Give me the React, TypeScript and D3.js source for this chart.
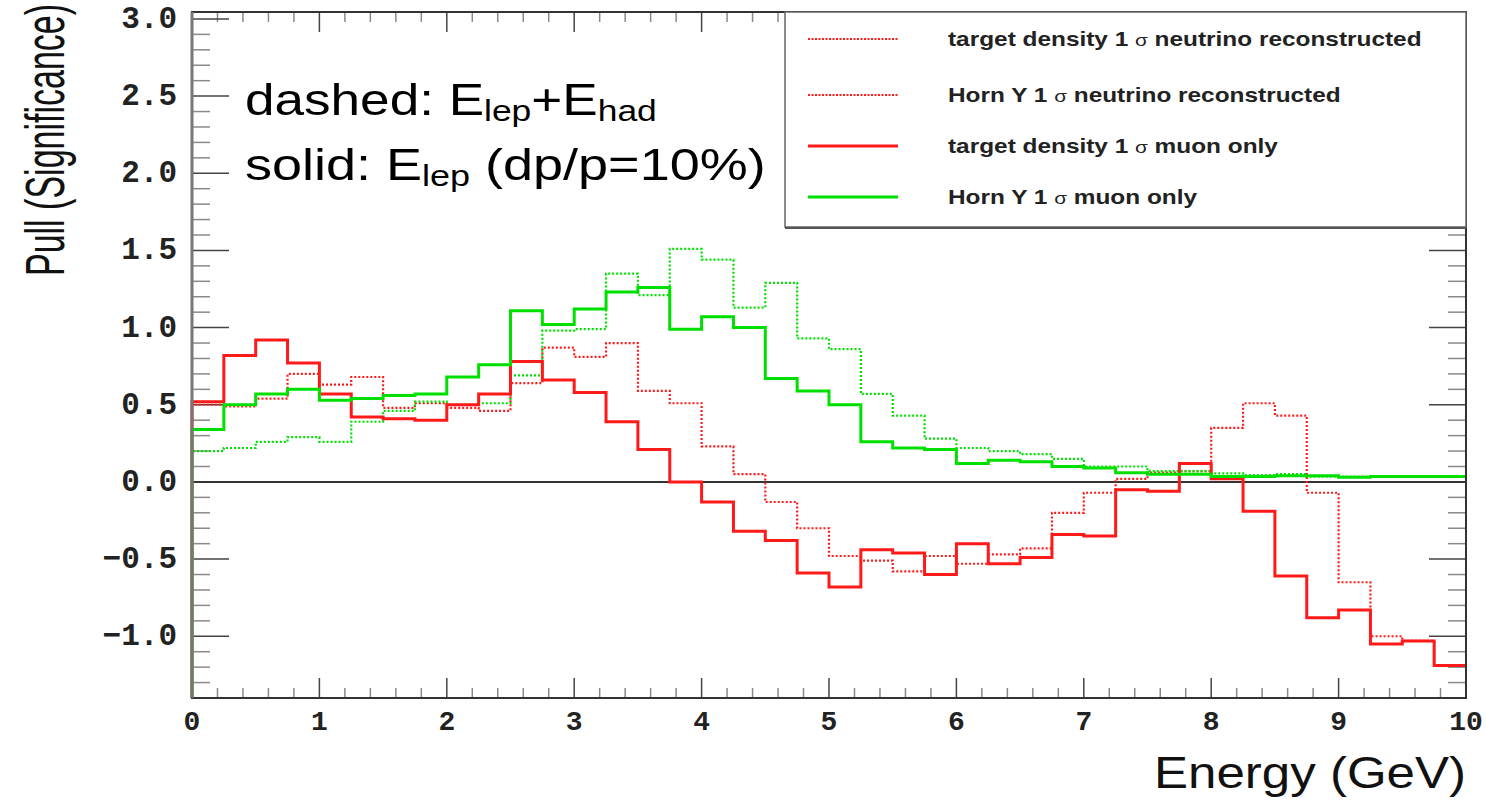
import React from 'react';
import * as d3 from 'd3';

const W = 1486;
const H = 802;

// Histogram binning: 40 bins of 0.25 GeV from 0 to 10 GeV
const BIN_WIDTH = 0.25;
const N_BINS = 40;
const binLowEdges = d3.range(N_BINS).map((i) => i * BIN_WIDTH);

// target density 1 sigma, muon only (red solid)
const targetDensityMuon = [
  0.52, 0.82, 0.92, 0.77, 0.57, 0.42, 0.41, 0.40, 0.50, 0.57,
  0.78, 0.66, 0.58, 0.39, 0.21, 0.00, -0.13, -0.32, -0.38, -0.59,
  -0.68, -0.44, -0.46, -0.60, -0.40, -0.53, -0.49, -0.34, -0.35, -0.05,
  -0.06, 0.12, 0.02, -0.19, -0.61, -0.88, -0.83, -1.05, -1.03, -1.19,
];

// Horn Y 1 sigma, muon only (green solid)
const hornYMuon = [
  0.34, 0.50, 0.57, 0.60, 0.53, 0.54, 0.56, 0.57, 0.68, 0.76,
  1.11, 1.02, 1.12, 1.23, 1.26, 0.99, 1.07, 1.00, 0.67, 0.59,
  0.50, 0.26, 0.22, 0.21, 0.12, 0.14, 0.13, 0.10, 0.09, 0.06,
  0.05, 0.05, 0.035, 0.035, 0.04, 0.04, 0.03, 0.035, 0.035, 0.035,
];

// target density 1 sigma, neutrino reconstructed (red dotted)
const targetDensityNu = [
  0.50, 0.49, 0.54, 0.70, 0.63, 0.68, 0.48, 0.51, 0.48, 0.46,
  0.64, 0.87, 0.81, 0.90, 0.59, 0.51, 0.23, 0.05, -0.13, -0.30,
  -0.48, -0.51, -0.58, -0.48, -0.53, -0.47, -0.43, -0.20, -0.07, 0.02,
  0.06, 0.07, 0.35, 0.51, 0.43, -0.07, -0.65, -1.00, -1.03, -1.19,
];

// Horn Y 1 sigma, neutrino reconstructed (green dotted)
const hornYNu = [
  0.20, 0.22, 0.26, 0.29, 0.26, 0.39, 0.46, 0.52, 0.50, 0.51,
  0.69, 0.98, 0.99, 1.35, 1.21, 1.51, 1.44, 1.13, 1.29, 0.93,
  0.86, 0.57, 0.43, 0.28, 0.22, 0.20, 0.18, 0.15, 0.10, 0.10,
  0.07, 0.07, 0.055, 0.045, 0.05, 0.035, 0.035, 0.035, 0.035, 0.035,
];

const yMajorTicks = [-1.0, -0.5, 0.0, 0.5, 1.0, 1.5, 2.0, 2.5, 3.0];
const yTickLabels = ['\u22121.0', '\u22120.5', '0.0', '0.5', '1.0', '1.5', '2.0', '2.5', '3.0'];
const xMajorTicks = [0, 1, 2, 3, 4, 5, 6, 7, 8, 9, 10];
const xTickLabels = ['0', '1', '2', '3', '4', '5', '6', '7', '8', '9', '10'];

const legendEntries = [
  { pre: 'target density 1 ', post: ' neutrino reconstructed', color: '#ff1a1a', dotted: true },
  { pre: 'Horn Y 1 ', post: ' neutrino reconstructed', color: '#ff1a1a', dotted: true },
  { pre: 'target density 1 ', post: ' muon only', color: '#ff1a1a', dotted: false },
  { pre: 'Horn Y 1 ', post: ' muon only', color: '#00e000', dotted: false },
];

const RED = '#ff1a1a';
const GREEN = '#00e000';

export default function App() {
  const X0 = 192, X1 = 1466, Y0 = 698, Y1 = 12;
  const yMin = -1.4, yMax = 3.045;
  const x = d3.scaleLinear().domain([0, 10]).range([X0, X1]);
  const y = d3.scaleLinear().domain([yMin, yMax]).range([Y0, Y1]);

  const line = d3
    .line<[number, number]>()
    .x((d) => x(d[0]))
    .y((d) => y(d[1]))
    .curve(d3.curveStepAfter);

  const stepPath = (vals: number[]) => {
    const pts: [number, number][] = [[0, yMin]];
    vals.forEach((v, i) => pts.push([binLowEdges[i], v]));
    pts.push([N_BINS * BIN_WIDTH, vals[vals.length - 1]]);
    return line(pts) || '';
  };

  const yMinor = d3.range(-14, 31).map((i) => i / 10).filter((v) => Math.abs(v * 2 - Math.round(v * 2)) > 1e-6);
  const xMinor = d3.range(0, 51).map((i) => i / 5).filter((v) => Math.abs(v - Math.round(v)) > 1e-6);

  const series = [
    { vals: targetDensityNu, color: RED, dotted: true },
    { vals: hornYNu, color: GREEN, dotted: true },
    { vals: targetDensityMuon, color: RED, dotted: false },
    { vals: hornYMuon, color: GREEN, dotted: false },
  ];

  const legendRowY = [39, 95, 146, 197];

  return (
    <div style={{ position: 'absolute', left: 0, top: 0 }}>
      <svg width={W} height={H} style={{ display: 'block', background: '#fff' }}>
        <rect x={0} y={0} width={W} height={H} fill="#fff" />

        {/* minor ticks */}
        <g stroke="#8a8a8a" strokeWidth={1.5}>
          {yMinor.map((v) => (
            <g key={'ym' + v}>
              <line x1={X0} x2={X0 + 18} y1={y(v)} y2={y(v)} />
              <line x1={X1} x2={X1 - 18} y1={y(v)} y2={y(v)} />
            </g>
          ))}
          {xMinor.map((v) => (
            <g key={'xm' + v}>
              <line x1={x(v)} x2={x(v)} y1={Y0} y2={Y0 - 10} />
              <line x1={x(v)} x2={x(v)} y1={Y1} y2={Y1 + 10} />
            </g>
          ))}
        </g>
        {/* major ticks */}
        <g stroke="#444" strokeWidth={1.5}>
          {yMajorTicks.map((v) => (
            <g key={'yM' + v}>
              <line x1={X0} x2={X0 + 37} y1={y(v)} y2={y(v)} />
              <line x1={X1} x2={X1 - 37} y1={y(v)} y2={y(v)} />
            </g>
          ))}
          {xMajorTicks.map((v) => (
            <g key={'xM' + v}>
              <line x1={x(v)} x2={x(v)} y1={Y0} y2={Y0 - 20} />
              <line x1={x(v)} x2={x(v)} y1={Y1} y2={Y1 + 20} />
            </g>
          ))}
        </g>

        {/* zero line */}
        <line x1={X0} x2={X1} y1={y(0)} y2={y(0)} stroke="#333" strokeWidth={2} />

        {/* histograms */}
        {series.map((s, i) => (
          <path
            key={i}
            d={stepPath(s.vals)}
            fill="none"
            stroke={s.color}
            strokeWidth={s.dotted ? 2.2 : 3}
            strokeDasharray={s.dotted ? '2 2' : undefined}
            strokeLinejoin="miter"
          />
        ))}

        {/* frame */}
        <rect x={X0} y={Y1} width={X1 - X0} height={Y0 - Y1} fill="none" stroke="#333" strokeWidth={2} />
        <line x1={X0} x2={X0} y1={Y1} y2={Y0} stroke="#777" strokeWidth={3} />

        {/* y tick labels */}
        <g fontFamily="'Liberation Mono', 'DejaVu Sans Mono', monospace" fontWeight="bold" fontSize={31} fill="#222">
          {yMajorTicks.map((v, i) => (
            <text key={'yl' + v} x={177} y={y(v) + 9} textAnchor="end">
              {yTickLabels[i]}
            </text>
          ))}
        </g>
        {/* x tick labels */}
        <g fontFamily="'Liberation Mono', 'DejaVu Sans Mono', monospace" fontWeight="bold" fontSize={28} fill="#222">
          {xMajorTicks.map((v, i) => (
            <text key={'xl' + v} x={x(v)} y={730} textAnchor="middle">
              {xTickLabels[i]}
            </text>
          ))}
        </g>

        {/* axis titles */}
        <text
          transform="translate(1466,788) scale(1.16,1)"
          textAnchor="end"
          fontFamily="'Liberation Sans', Arial, sans-serif"
          fontSize={44}
          fill="#111"
        >
          Energy (GeV)
        </text>
        <text
          transform="translate(64,140) scale(1.65,1) rotate(-90)"
          textAnchor="middle"
          fontFamily="'Liberation Sans', Arial, sans-serif"
          fontSize={34}
          fill="#111"
        >
          Pull (Significance)
        </text>

        {/* legend */}
        <rect x={785} y={Y1} width={X1 - 785} height={227 - Y1} fill="#fff" stroke="#666" strokeWidth={1.5} />
        <line x1={785} x2={X1} y1={228} y2={228} stroke="#555" strokeWidth={2} />
        {legendEntries.map((e, i) => (
          <g key={'lg' + i}>
            <line
              x1={808}
              x2={898}
              y1={legendRowY[i]}
              y2={legendRowY[i]}
              stroke={e.color}
              strokeWidth={e.dotted ? 2.2 : 3}
              strokeDasharray={e.dotted ? '2 1.5' : undefined}
            />
            <text
              transform={`translate(948,${legendRowY[i] + 7}) scale(1.22,1)`}
              fontFamily="'Liberation Sans', Arial, sans-serif"
              fontWeight="bold"
              fontSize={20}
              fill="#222"
            >
              {e.pre}
              <tspan fontWeight="normal" fontSize={17}>σ</tspan>
              {e.post}
            </text>
          </g>
        ))}

        {/* annotation */}
        <g fontFamily="'Liberation Sans', Arial, sans-serif" fill="#000">
          <text transform="translate(245,115) scale(1.18,1)" fontSize={45}>
            dashed: E<tspan fontSize={30} dy={6}>lep</tspan>
            <tspan dy={-6}>+E</tspan>
            <tspan fontSize={30} dy={6}>had</tspan>
          </text>
          <text transform="translate(245,180) scale(1.2,1)" fontSize={45}>
            solid: E<tspan fontSize={30} dy={6}>lep</tspan>
            <tspan dy={-6}> (dp/p=10%)</tspan>
          </text>
        </g>
      </svg>
    </div>
  );
}
